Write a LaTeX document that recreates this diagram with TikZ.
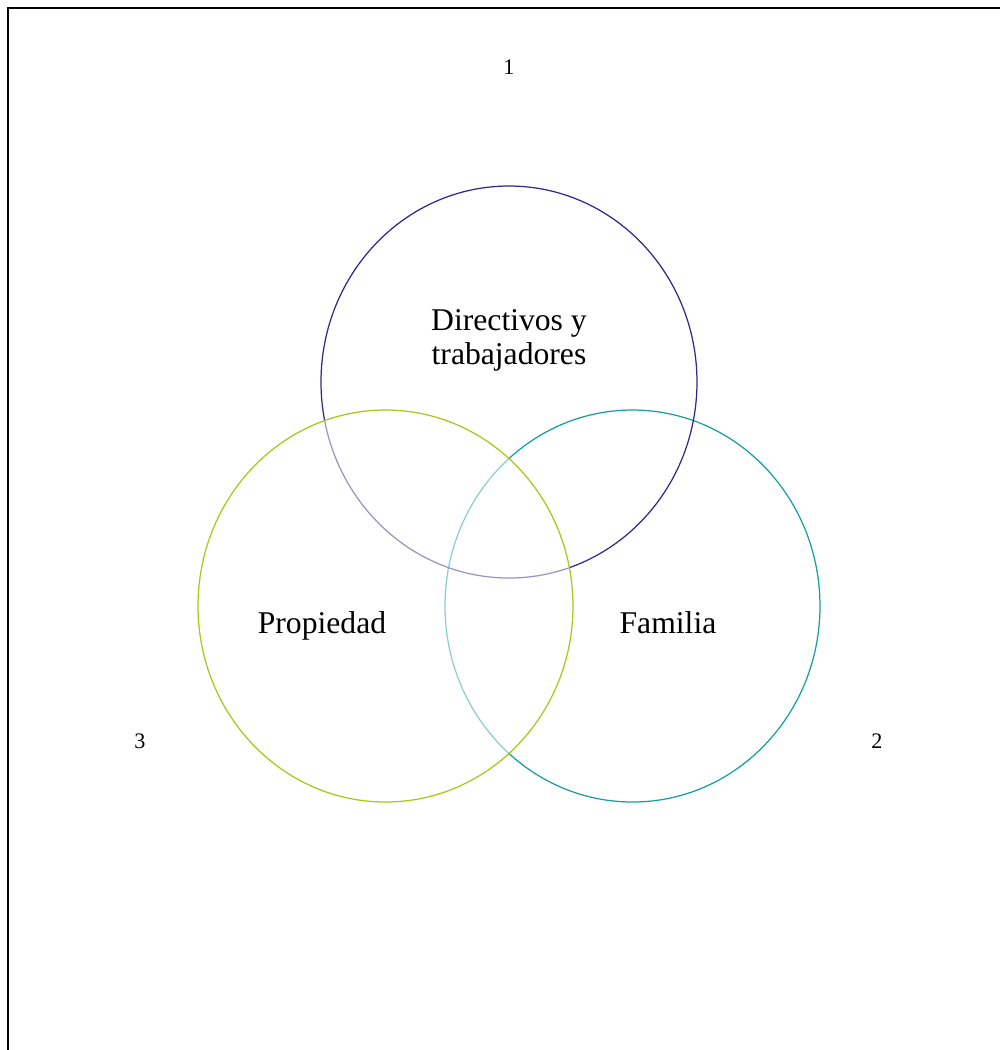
\documentclass[tikz,border=0pt]{standalone}
\usepackage{fontspec}
\setmainfont{Liberation Serif}
\definecolor{vennblue}{RGB}{48,40,140}
\definecolor{venngreen}{RGB}{166,200,24}
\definecolor{vennteal}{RGB}{22,158,160}
\begin{document}
\begin{tikzpicture}[x=0.01cm, y=-0.01cm,
    ring/.style={line width=0.35pt},
    setlabel/.style={font=\fontsize{9}{9.7}\selectfont, align=center, inner sep=0pt},
    cornerlabel/.style={font=\fontsize{6.3}{7}\selectfont, inner sep=0pt}]
  \useasboundingbox (0,0) rectangle (1000,1050);
  % frame
  \draw[line width=0.6pt] (1000,8) -- (8,8) -- (8,1050);
  % the three sets
  \draw[ring, vennteal] (632.5,606) ellipse [x radius=187.5, y radius=196];
  \draw[ring, vennblue] (509,382) ellipse [x radius=188, y radius=196];
  \draw[ring, venngreen, fill=white, fill opacity=0.5] (385.5,606) ellipse [x radius=187.5, y radius=196];
  % labels
  \node[setlabel] (dirtrab) at (509,340) {Directivos y\\trabajadores};
  \node[setlabel, anchor=base] (prop) at (322,633) {Propiedad};
  \node[setlabel, anchor=base] (fam) at (668,633) {Familia};
  \node[cornerlabel] (one) at (509,67) {1};
  \node[cornerlabel] (two) at (877,741) {2};
  \node[cornerlabel] (three) at (140,741) {3};
\end{tikzpicture}
\end{document}
